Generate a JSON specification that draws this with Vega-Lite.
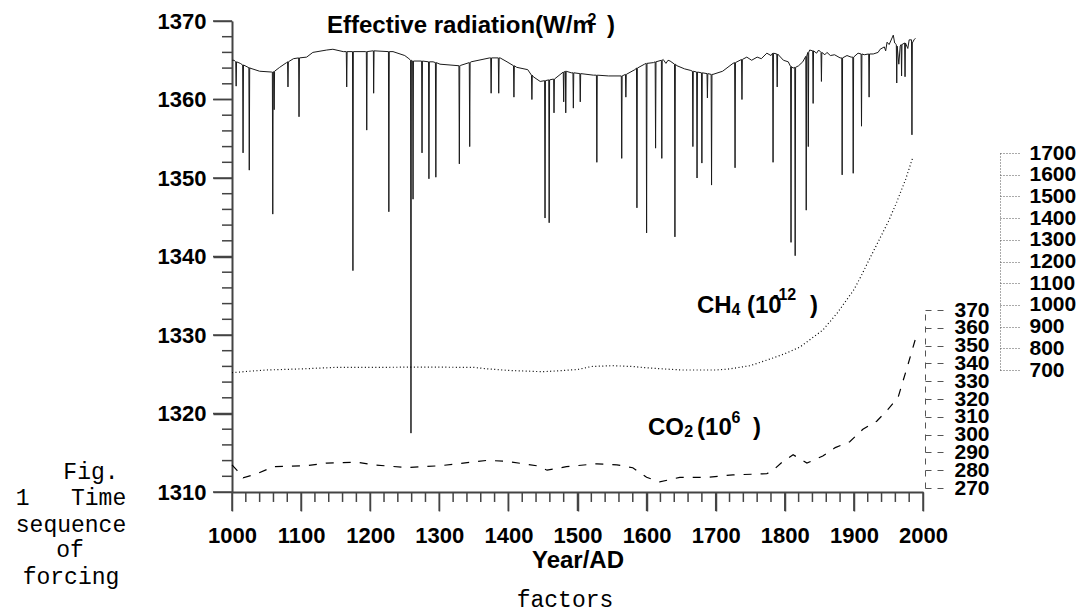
{
  "$schema": "https://vega.github.io/schema/vega-lite/v6.json",
  "autosize": {"type": "none"},
  "padding": {"left": 232, "top": 21, "right": 159, "bottom": 119},
  "width": 691,
  "height": 471,
  "background": "white",
  "config": {
    "view": {"stroke": null},
    "font": "Liberation Sans",
    "axis": {"grid": false, "labelFont": "Liberation Sans", "labelFontWeight": "bold", "labelColor": "#000", "titleFont": "Liberation Sans", "titleColor": "#000"}
  },
  "datasets": {
    "rad": [
      {"year":1000,"rad":1365.0},{"year":1003,"rad":1365.0},{"year":1005.4,"rad":1364.8},{"year":1006,"rad":1361.7},{"year":1006.6,"rad":1364.8},
      {"year":1012,"rad":1364.6},{"year":1015.4,"rad":1364.4},{"year":1016,"rad":1353.2},{"year":1016.6,"rad":1364.4},
      {"year":1024.4,"rad":1364.05},{"year":1025,"rad":1351.0},{"year":1025.6,"rad":1364.05},{"year":1026,"rad":1364.0},
      {"year":1040,"rad":1363.6},{"year":1057,"rad":1363.5},{"year":1058.4,"rad":1363.5},{"year":1059,"rad":1345.4},{"year":1059.6,"rad":1363.5},
      {"year":1060.4,"rad":1363.55},{"year":1061,"rad":1358.7},{"year":1061.6,"rad":1363.6},
      {"year":1069,"rad":1364.1},{"year":1079,"rad":1364.7},{"year":1080.4,"rad":1364.8},{"year":1081,"rad":1361.6},{"year":1081.6,"rad":1364.8},
      {"year":1089,"rad":1365.2},{"year":1096.4,"rad":1365.3},{"year":1097,"rad":1357.8},{"year":1097.6,"rad":1365.3},
      {"year":1108,"rad":1365.4},{"year":1117,"rad":1366.0},{"year":1137,"rad":1366.3},{"year":1146,"rad":1366.4},{"year":1161,"rad":1366.1},
      {"year":1165.4,"rad":1366.1},{"year":1166,"rad":1361.6},{"year":1166.6,"rad":1366.1},
      {"year":1174.4,"rad":1366.1},{"year":1175,"rad":1338.2},{"year":1175.6,"rad":1366.1},
      {"year":1193,"rad":1366.1},{"year":1194.4,"rad":1366.1},{"year":1195,"rad":1356.1},{"year":1195.6,"rad":1366.1},
      {"year":1204,"rad":1366.2},{"year":1204.6,"rad":1366.2},{"year":1205,"rad":1360.8},{"year":1205.6,"rad":1366.2},
      {"year":1226.4,"rad":1366.1},{"year":1227,"rad":1345.7},{"year":1227.6,"rad":1366.1},
      {"year":1233,"rad":1366.1},{"year":1250,"rad":1365.6},{"year":1256,"rad":1365.2},
      {"year":1258.4,"rad":1365.0},{"year":1259,"rad":1317.5},{"year":1259.6,"rad":1365.0},
      {"year":1261.4,"rad":1364.9},{"year":1262,"rad":1347.3},{"year":1262.6,"rad":1364.9},
      {"year":1274.4,"rad":1364.9},{"year":1275,"rad":1353.2},{"year":1275.6,"rad":1364.9},
      {"year":1284.4,"rad":1364.8},{"year":1285,"rad":1349.9},{"year":1285.6,"rad":1364.8},
      {"year":1291,"rad":1364.8},{"year":1294.4,"rad":1364.7},{"year":1295,"rad":1350.1},{"year":1295.6,"rad":1364.7},
      {"year":1301,"rad":1364.5},{"year":1328.4,"rad":1364.3},{"year":1329,"rad":1351.8},{"year":1329.6,"rad":1364.3},
      {"year":1331,"rad":1364.35},{"year":1343.4,"rad":1364.7},{"year":1344,"rad":1354.0},{"year":1344.6,"rad":1364.7},
      {"year":1346,"rad":1364.8},{"year":1373,"rad":1365.3},{"year":1374.4,"rad":1365.3},{"year":1375,"rad":1360.8},{"year":1375.6,"rad":1365.3},
      {"year":1385.4,"rad":1365.3},{"year":1386,"rad":1360.8},{"year":1386.6,"rad":1365.3},
      {"year":1388,"rad":1365.3},{"year":1398,"rad":1364.8},{"year":1407.4,"rad":1364.3},{"year":1408,"rad":1360.3},{"year":1408.6,"rad":1364.3},
      {"year":1412,"rad":1364.1},{"year":1428,"rad":1363.8},{"year":1433.4,"rad":1363.1},{"year":1434,"rad":1360.0},{"year":1434.6,"rad":1363.1},
      {"year":1436,"rad":1362.9},{"year":1446,"rad":1362.3},{"year":1452.4,"rad":1362.4},{"year":1453,"rad":1344.9},{"year":1453.6,"rad":1362.4},
      {"year":1458.4,"rad":1362.5},{"year":1459,"rad":1344.3},{"year":1459.6,"rad":1362.5},
      {"year":1465,"rad":1362.6},{"year":1465.5,"rad":1362.6},{"year":1466,"rad":1358.3},{"year":1466.6,"rad":1362.6},
      {"year":1479.4,"rad":1363.5},{"year":1480,"rad":1359.7},{"year":1480.6,"rad":1363.5},
      {"year":1482,"rad":1363.6},{"year":1482.5,"rad":1363.6},{"year":1483,"rad":1358.3},{"year":1483.6,"rad":1363.6},
      {"year":1491,"rad":1363.4},{"year":1493.4,"rad":1363.4},{"year":1494,"rad":1358.9},{"year":1494.6,"rad":1363.4},
      {"year":1503.4,"rad":1363.3},{"year":1504,"rad":1359.7},{"year":1504.6,"rad":1363.3},
      {"year":1523,"rad":1363.1},{"year":1527.4,"rad":1363.1},{"year":1528,"rad":1352.0},{"year":1528.6,"rad":1363.1},
      {"year":1545,"rad":1363.0},{"year":1563.4,"rad":1363.0},{"year":1564,"rad":1352.5},{"year":1564.6,"rad":1363.0},
      {"year":1569.4,"rad":1363.2},{"year":1570,"rad":1360.3},{"year":1570.6,"rad":1363.2},
      {"year":1583,"rad":1363.8},{"year":1585.4,"rad":1364.0},{"year":1586,"rad":1346.2},{"year":1586.6,"rad":1364.0},
      {"year":1597,"rad":1364.5},{"year":1599.4,"rad":1364.6},{"year":1600,"rad":1343.0},{"year":1600.6,"rad":1364.6},
      {"year":1610,"rad":1364.7},{"year":1612.4,"rad":1364.8},{"year":1613,"rad":1353.8},{"year":1613.6,"rad":1364.8},
      {"year":1621.4,"rad":1365.0},{"year":1622,"rad":1352.5},{"year":1622.6,"rad":1365.0},
      {"year":1624,"rad":1365.1},{"year":1628,"rad":1364.6},{"year":1631,"rad":1365.0},{"year":1634,"rad":1364.9},
      {"year":1640.4,"rad":1364.5},{"year":1641,"rad":1342.5},{"year":1641.6,"rad":1364.5},
      {"year":1644,"rad":1364.3},{"year":1655,"rad":1363.9},{"year":1664,"rad":1363.7},
      {"year":1666.4,"rad":1363.6},{"year":1667,"rad":1354.0},{"year":1667.6,"rad":1363.6},
      {"year":1672.4,"rad":1363.5},{"year":1673,"rad":1350.0},{"year":1673.6,"rad":1363.5},
      {"year":1679.4,"rad":1363.4},{"year":1680,"rad":1351.9},{"year":1680.6,"rad":1363.4},
      {"year":1687.4,"rad":1363.3},{"year":1688,"rad":1360.2},{"year":1688.6,"rad":1363.3},
      {"year":1693.4,"rad":1363.2},{"year":1694,"rad":1349.1},{"year":1694.6,"rad":1363.2},
      {"year":1696,"rad":1363.2},{"year":1710,"rad":1363.6},{"year":1725,"rad":1364.6},
      {"year":1727.4,"rad":1364.7},{"year":1728,"rad":1351.3},{"year":1728.6,"rad":1364.7},
      {"year":1737.4,"rad":1365.1},{"year":1738,"rad":1360.0},{"year":1738.6,"rad":1365.1},
      {"year":1745,"rad":1365.4},{"year":1752,"rad":1365.0},{"year":1760,"rad":1365.4},{"year":1766,"rad":1365.2},
      {"year":1774,"rad":1365.9},{"year":1780,"rad":1365.6},
      {"year":1782.4,"rad":1365.9},{"year":1783,"rad":1352.0},{"year":1783.6,"rad":1365.9},
      {"year":1788.4,"rad":1365.8},{"year":1789,"rad":1361.6},{"year":1789.6,"rad":1365.8},
      {"year":1798,"rad":1365.0},{"year":1805,"rad":1364.8},
      {"year":1808.4,"rad":1364.2},{"year":1809,"rad":1341.8},{"year":1809.6,"rad":1364.2},
      {"year":1812,"rad":1364.0},{"year":1814.4,"rad":1364.1},{"year":1815,"rad":1340.1},{"year":1815.6,"rad":1364.1},
      {"year":1820,"rad":1364.3},{"year":1826,"rad":1364.8},
      {"year":1830.4,"rad":1365.5},{"year":1831,"rad":1345.9},{"year":1831.6,"rad":1365.5},
      {"year":1833.4,"rad":1366.0},{"year":1834,"rad":1354.0},{"year":1834.6,"rad":1366.0},
      {"year":1836,"rad":1366.3},{"year":1840.4,"rad":1366.2},{"year":1841,"rad":1359.5},{"year":1841.6,"rad":1366.2},
      {"year":1846,"rad":1365.9},{"year":1849,"rad":1366.3},
      {"year":1852.4,"rad":1366.0},{"year":1853,"rad":1362.3},{"year":1853.6,"rad":1366.0},
      {"year":1858,"rad":1365.7},{"year":1861,"rad":1366.0},{"year":1866,"rad":1365.6},{"year":1872,"rad":1365.7},
      {"year":1880,"rad":1365.3},{"year":1882.4,"rad":1365.3},{"year":1883,"rad":1350.4},{"year":1883.6,"rad":1365.3},
      {"year":1890,"rad":1365.6},{"year":1896,"rad":1365.4},
      {"year":1898.4,"rad":1365.4},{"year":1899,"rad":1350.6},{"year":1899.6,"rad":1365.4},
      {"year":1906,"rad":1365.9},{"year":1910.4,"rad":1365.8},{"year":1911,"rad":1356.6},{"year":1911.6,"rad":1365.8},
      {"year":1915,"rad":1365.7},{"year":1921.4,"rad":1365.8},{"year":1922,"rad":1360.3},{"year":1922.6,"rad":1365.8},
      {"year":1928,"rad":1365.8},{"year":1935,"rad":1366.0},{"year":1938,"rad":1366.4},{"year":1944,"rad":1366.7},
      {"year":1946,"rad":1366.2},{"year":1948,"rad":1367.3},{"year":1951,"rad":1367.0},{"year":1957,"rad":1368.2},
      {"year":1959,"rad":1367.2},{"year":1961.4,"rad":1367.0},{"year":1962,"rad":1362.1},{"year":1962.6,"rad":1366.8},
      {"year":1965,"rad":1364.5},{"year":1967,"rad":1366.8},
      {"year":1968.4,"rad":1367.0},{"year":1969,"rad":1363.0},{"year":1969.6,"rad":1367.0},
      {"year":1973.4,"rad":1367.2},{"year":1974,"rad":1362.9},{"year":1974.6,"rad":1367.2},
      {"year":1978,"rad":1366.5},{"year":1980,"rad":1367.6},
      {"year":1983.4,"rad":1367.6},{"year":1984,"rad":1355.5},{"year":1984.6,"rad":1367.2},
      {"year":1987,"rad":1367.6},{"year":1989,"rad":1367.8}
    ],
    "ch4": [
      {"year":1000,"ch4":688},{"year":1020,"ch4":693},{"year":1050,"ch4":700},{"year":1100,"ch4":705},
      {"year":1150,"ch4":712},{"year":1200,"ch4":712},{"year":1250,"ch4":713},{"year":1300,"ch4":713},
      {"year":1350,"ch4":712},{"year":1370,"ch4":705},{"year":1400,"ch4":698},{"year":1450,"ch4":692},
      {"year":1500,"ch4":702},{"year":1520,"ch4":716},{"year":1550,"ch4":720},{"year":1580,"ch4":716},
      {"year":1600,"ch4":710},{"year":1650,"ch4":700},{"year":1700,"ch4":700},{"year":1720,"ch4":705},
      {"year":1750,"ch4":720},{"year":1780,"ch4":752},{"year":1800,"ch4":775},{"year":1822,"ch4":806},
      {"year":1855,"ch4":884},{"year":1876,"ch4":963},{"year":1900,"ch4":1070},{"year":1910,"ch4":1130},
      {"year":1920,"ch4":1195},{"year":1935,"ch4":1290},{"year":1950,"ch4":1385},{"year":1962,"ch4":1474},
      {"year":1975,"ch4":1580},{"year":1985,"ch4":1677}
    ],
    "co2": [
      {"year":1000,"co2":283},{"year":1007,"co2":280},{"year":1016,"co2":275.7},{"year":1036,"co2":278},
      {"year":1060,"co2":282},{"year":1108,"co2":282.5},{"year":1137,"co2":284},{"year":1181,"co2":284.5},
      {"year":1204,"co2":283},{"year":1253,"co2":281.5},{"year":1301,"co2":282.5},{"year":1369,"co2":285.5},
      {"year":1398,"co2":285},{"year":1441,"co2":282.5},{"year":1456,"co2":280},{"year":1484,"co2":282},
      {"year":1528,"co2":283.6},{"year":1557,"co2":283},{"year":1580,"co2":281.4},{"year":1600,"co2":276},
      {"year":1619,"co2":273.4},{"year":1648,"co2":276},{"year":1687,"co2":276},{"year":1725,"co2":277.4},
      {"year":1774,"co2":278},{"year":1783,"co2":280},{"year":1797,"co2":284.8},{"year":1812,"co2":288.7},
      {"year":1832,"co2":284},{"year":1855,"co2":288},{"year":1873,"co2":292.7},{"year":1894,"co2":296},
      {"year":1913,"co2":303},{"year":1933,"co2":307.5},{"year":1949,"co2":314},{"year":1964,"co2":321},
      {"year":1971,"co2":330},{"year":1978,"co2":339},{"year":1984,"co2":347},{"year":1990,"co2":355}
    ],
    "xticks": [
      {"year":1000,"major":true},{"year":1020,"major":false},{"year":1040,"major":false},{"year":1060,"major":false},{"year":1080,"major":false},
      {"year":1100,"major":true},{"year":1120,"major":false},{"year":1140,"major":false},{"year":1160,"major":false},{"year":1180,"major":false},
      {"year":1200,"major":true},{"year":1220,"major":false},{"year":1240,"major":false},{"year":1260,"major":false},{"year":1280,"major":false},
      {"year":1300,"major":true},{"year":1320,"major":false},{"year":1340,"major":false},{"year":1360,"major":false},{"year":1380,"major":false},
      {"year":1400,"major":true},{"year":1420,"major":false},{"year":1440,"major":false},{"year":1460,"major":false},{"year":1480,"major":false},
      {"year":1500,"major":true},{"year":1520,"major":false},{"year":1540,"major":false},{"year":1560,"major":false},{"year":1580,"major":false},
      {"year":1600,"major":true},{"year":1620,"major":false},{"year":1640,"major":false},{"year":1660,"major":false},{"year":1680,"major":false},
      {"year":1700,"major":true},{"year":1720,"major":false},{"year":1740,"major":false},{"year":1760,"major":false},{"year":1780,"major":false},
      {"year":1800,"major":true},{"year":1820,"major":false},{"year":1840,"major":false},{"year":1860,"major":false},{"year":1880,"major":false},
      {"year":1900,"major":true},{"year":1920,"major":false},{"year":1940,"major":false},{"year":1960,"major":false},{"year":1980,"major":false},
      {"year":2000,"major":true}
    ],
    "yticks": [
      {"rad":1310,"major":true},{"rad":1312,"major":false},{"rad":1314,"major":false},{"rad":1316,"major":false},{"rad":1318,"major":false},
      {"rad":1320,"major":true},{"rad":1322,"major":false},{"rad":1324,"major":false},{"rad":1326,"major":false},{"rad":1328,"major":false},
      {"rad":1330,"major":true},{"rad":1332,"major":false},{"rad":1334,"major":false},{"rad":1336,"major":false},{"rad":1338,"major":false},
      {"rad":1340,"major":true},{"rad":1342,"major":false},{"rad":1344,"major":false},{"rad":1346,"major":false},{"rad":1348,"major":false},
      {"rad":1350,"major":true},{"rad":1352,"major":false},{"rad":1354,"major":false},{"rad":1356,"major":false},{"rad":1358,"major":false},
      {"rad":1360,"major":true},{"rad":1362,"major":false},{"rad":1364,"major":false},{"rad":1366,"major":false},{"rad":1368,"major":false},
      {"rad":1370,"major":true}
    ],
    "labels": [
      {"kind":"main","year":1137.5,"rad":1368.47,"text":"Effective radiation(W/m\u00a0\u00a0)"},
      {"kind":"small","year":1514.5,"rad":1369.49,"text":"2"},
      {"kind":"main","year":1672.9,"rad":1332.8,"text":"CH"},
      {"kind":"small","year":1723.0,"rad":1332.55,"text":"4"},
      {"kind":"main","year":1745.3,"rad":1332.8,"text":"(10"},
      {"kind":"small","year":1783.0,"rad":1334.46,"text":"-12"},
      {"kind":"main","year":1836.5,"rad":1332.8,"text":")"},
      {"kind":"main","year":1602.0,"rad":1317.26,"text":"CO"},
      {"kind":"small","year":1654.5,"rad":1317.0,"text":"2"},
      {"kind":"main","year":1673.0,"rad":1317.26,"text":"(10"},
      {"kind":"small","year":1723.0,"rad":1318.79,"text":"6"},
      {"kind":"main","year":1754.0,"rad":1317.26,"text":")"},
      {"kind":"cap","year":795.9,"rad":1312.55,"text":"Fig."},
      {"kind":"cap","year":767.0,"rad":1309.24,"text":"1\u00a0\u00a0\u00a0Time"},
      {"kind":"cap","year":767.0,"rad":1305.8,"text":"sequence"},
      {"kind":"cap","year":765.6,"rad":1302.61,"text":"of"},
      {"kind":"cap","year":767.0,"rad":1299.17,"text":"forcing"},
      {"kind":"cap","year":1481.9,"rad":1296.3,"text":"factors"}
    ]
  },
  "layer": [
    {
      "layer": [
        {
          "data": {"name": "rad"},
          "mark": {"type": "line", "stroke": "#1a1a1a", "strokeWidth": 1},
          "encoding": {
            "x": {"field": "year", "type": "quantitative",
              "scale": {"domain": [1000, 2000], "nice": false, "zero": false},
              "axis": {
                "title": "Year/AD", "titleFontSize": 24, "titleFontWeight": "bold", "titlePadding": 2,
                "values": [1000,1100,1200,1300,1400,1500,1600,1700,1800,1900,2000],
                "format": "d",
                "labelFontSize": 22, "labelPadding": 14, "labelFlush": false, "labelOverlap": false,
                "tickSize": 19, "tickColor": "#444", "tickWidth": 1.5,
                "domainColor": "#444", "domainWidth": 2
              }
            },
            "y": {"field": "rad", "type": "quantitative",
              "scale": {"domain": [1310, 1370], "nice": false, "zero": false},
              "axis": {
                "title": null, "orient": "left",
                "values": [1310,1320,1330,1340,1350,1360,1370],
                "format": "d",
                "labelFontSize": 22, "labelPadding": 7, "labelOverlap": false, "labelFlush": false,
                "tickSize": 19, "tickColor": "#444", "tickWidth": 1.5,
                "domainColor": "#444", "domainWidth": 2
              }
            }
          }
        },
        {
          "data": {"name": "xticks"},
          "transform": [{"filter": "datum.major"}],
          "mark": {"type": "rule", "stroke": "#444", "strokeWidth": 1.5},
          "encoding": {
            "x": {"field": "year", "type": "quantitative", "scale": {"domain": [1000, 2000], "nice": false, "zero": false}, "axis": null},
            "y": {"datum": 1310, "type": "quantitative", "axis": null},
            "y2": {"datum": 1307.58}
          }
        },
        {
          "data": {"name": "xticks"},
          "transform": [{"filter": "!datum.major"}],
          "mark": {"type": "rule", "stroke": "#444", "strokeWidth": 1.5},
          "encoding": {
            "x": {"field": "year", "type": "quantitative", "scale": {"domain": [1000, 2000], "nice": false, "zero": false}, "axis": null},
            "y": {"datum": 1310, "type": "quantitative", "axis": null},
            "y2": {"datum": 1308.73}
          }
        },
        {
          "data": {"name": "yticks"},
          "transform": [{"filter": "datum.major"}],
          "mark": {"type": "rule", "stroke": "#444", "strokeWidth": 1.5},
          "encoding": {
            "y": {"field": "rad", "type": "quantitative", "scale": {"domain": [1310, 1370], "nice": false, "zero": false}, "axis": null},
            "x": {"datum": 1000, "type": "quantitative", "axis": null},
            "x2": {"datum": 972.5}
          }
        },
        {
          "data": {"name": "yticks"},
          "transform": [{"filter": "!datum.major"}],
          "mark": {"type": "rule", "stroke": "#444", "strokeWidth": 1.5},
          "encoding": {
            "y": {"field": "rad", "type": "quantitative", "scale": {"domain": [1310, 1370], "nice": false, "zero": false}, "axis": null},
            "x": {"datum": 1000, "type": "quantitative", "axis": null},
            "x2": {"datum": 985.5}
          }
        },
        {
          "data": {"name": "labels"},
          "transform": [{"filter": "datum.kind === 'main'"}],
          "mark": {"type": "text", "font": "Liberation Sans", "fontWeight": "bold", "fontSize": 24, "align": "left", "baseline": "alphabetic", "color": "#000"},
          "encoding": {
            "x": {"field": "year", "type": "quantitative", "scale": {"domain": [1000, 2000], "nice": false, "zero": false}, "axis": null},
            "y": {"field": "rad", "type": "quantitative", "scale": {"domain": [1310, 1370], "nice": false, "zero": false}, "axis": null},
            "text": {"field": "text"}
          }
        },
        {
          "data": {"name": "labels"},
          "transform": [{"filter": "datum.kind === 'small'"}],
          "mark": {"type": "text", "font": "Liberation Sans", "fontWeight": "bold", "fontSize": 16, "align": "left", "baseline": "alphabetic", "color": "#000"},
          "encoding": {
            "x": {"field": "year", "type": "quantitative", "scale": {"domain": [1000, 2000], "nice": false, "zero": false}, "axis": null},
            "y": {"field": "rad", "type": "quantitative", "scale": {"domain": [1310, 1370], "nice": false, "zero": false}, "axis": null},
            "text": {"field": "text"}
          }
        },
        {
          "data": {"name": "labels"},
          "transform": [{"filter": "datum.kind === 'cap'"}],
          "mark": {"type": "text", "font": "Liberation Mono", "fontWeight": "normal", "fontSize": 23, "align": "center", "baseline": "middle", "color": "#000"},
          "encoding": {
            "x": {"field": "year", "type": "quantitative", "scale": {"domain": [1000, 2000], "nice": false, "zero": false}, "axis": null},
            "y": {"field": "rad", "type": "quantitative", "scale": {"domain": [1310, 1370], "nice": false, "zero": false}, "axis": null},
            "text": {"field": "text"}
          }
        }
      ],
      "resolve": {"axis": {"x": "independent", "y": "independent"}}
    },
    {
      "data": {"name": "ch4"},
      "mark": {"type": "line", "stroke": "#000", "strokeWidth": 1.2, "strokeDash": [1, 2.5]},
      "encoding": {
        "x": {"field": "year", "type": "quantitative", "scale": {"domain": [1000, 2000], "nice": false, "zero": false}, "axis": null},
        "y": {"field": "ch4", "type": "quantitative",
          "scale": {"domain": [700, 1700], "range": [349, 132], "nice": false, "zero": false},
          "axis": {
            "title": null, "orient": "right", "offset": 77,
            "values": [700,800,900,1000,1100,1200,1300,1400,1500,1600,1700],
            "format": "d",
            "labelFontSize": 21, "labelPadding": 9, "labelOverlap": false, "labelFlush": false,
            "tickSize": 20, "tickColor": "#555", "tickWidth": 1, "tickDash": [1, 2],
            "domainColor": "#555", "domainWidth": 1, "domainDash": [1, 2]
          }
        }
      }
    },
    {
      "data": {"name": "co2"},
      "mark": {"type": "line", "stroke": "#000", "strokeWidth": 1.2, "strokeDash": [8, 9]},
      "encoding": {
        "x": {"field": "year", "type": "quantitative", "scale": {"domain": [1000, 2000], "nice": false, "zero": false}, "axis": null},
        "y": {"field": "co2", "type": "quantitative",
          "scale": {"domain": [270, 370], "range": [467, 289], "nice": false, "zero": false},
          "axis": {
            "title": null, "orient": "right", "offset": 2,
            "values": [270,280,290,300,310,320,330,340,350,360,370],
            "format": "d",
            "labelFontSize": 21, "labelPadding": 9, "labelOverlap": false, "labelFlush": false,
            "tickSize": 20, "tickColor": "#555", "tickWidth": 1, "tickDash": [6, 6],
            "domainColor": "#555", "domainWidth": 1, "domainDash": [6, 6]
          }
        }
      }
    }
  ],
  "resolve": {"scale": {"y": "independent"}, "axis": {"x": "independent", "y": "independent"}}
}
